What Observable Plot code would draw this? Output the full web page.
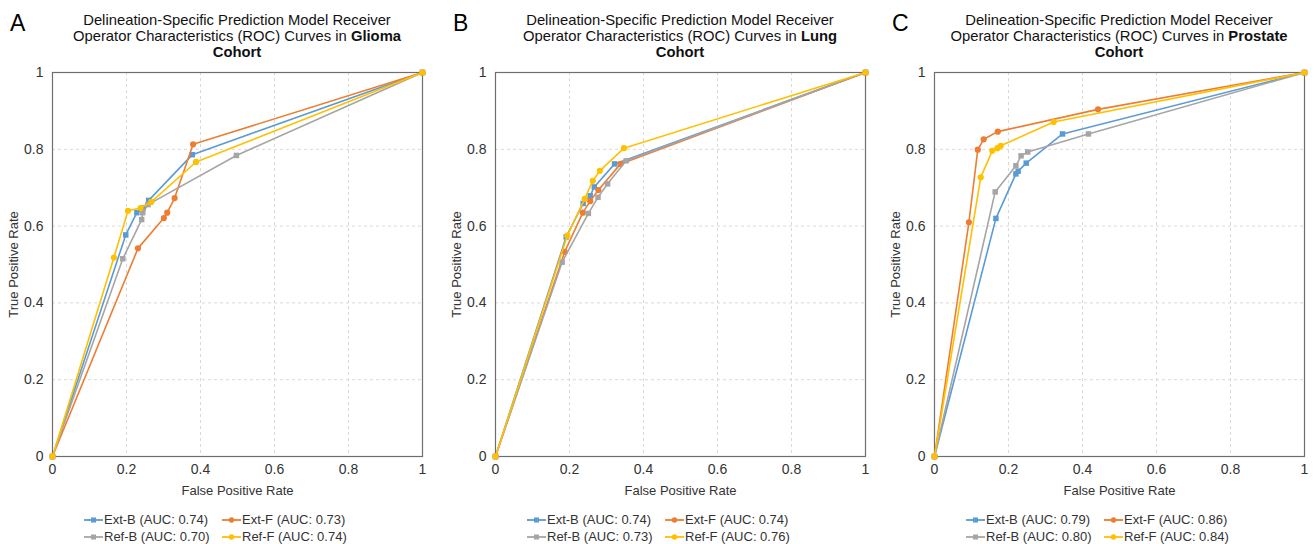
<!DOCTYPE html>
<html>
<head>
<meta charset="utf-8">
<script src="https://cdn.jsdelivr.net/npm/d3@7"></script>
<script src="https://cdn.jsdelivr.net/npm/@observablehq/plot@0.6"></script>
<style>
  html, body { margin: 0; padding: 0; background: #fff; }
  body { width: 1314px; height: 544px; position: relative; overflow: hidden;
         font-family: "Liberation Sans", Arial, sans-serif; }
  .panel { position: absolute; top: 0; width: 438px; height: 544px; }
  .letter { position: absolute; left: 10px; top: 10px; font-size: 23px; color: #000; }
  .title { position: absolute; left: 32px; width: 410px; top: 12px; text-align: center;
           font-size: 14.8px; line-height: 16px; color: #111; }
  .plotwrap { position: absolute; left: 0; top: 60px; }
  .plotwrap svg g[aria-label="x-axis label"] text,
  .plotwrap svg g[aria-label="y-axis label"] text,
  .plotwrap svg g[aria-label="x-axis label"],
  .plotwrap svg g[aria-label="y-axis label"] { font-size: 13px; }
  .legend { position: absolute; left: 84px; top: 511px; display: grid;
            grid-template-columns: 138px 150px; row-gap: 0px; font-size: 13px; color: #333; }
  .item { display: flex; align-items: center; height: 17px; white-space: nowrap; }
  .item svg { margin-right: 1px; }
</style>
</head>
<body>
<script>
// ---- data ----
const tickValues = [0, 0.2, 0.4, 0.6, 0.8, 1];
const seriesNames = ["Ext-B", "Ext-F", "Ref-B", "Ref-F"];
const seriesColors = ["#5B9BD5", "#ED7D31", "#A5A5A5", "#FFC000"];
const seriesSymbols = ["square", "circle", "square", "circle"];

// Glioma (FPR, TPR)
const gliomaExtB = [[0,0],[0.198,0.577],[0.228,0.635],[0.245,0.647],[0.260,0.667],[0.378,0.786],[1,1]];
const gliomaExtF = [[0,0],[0.231,0.542],[0.301,0.621],[0.310,0.635],[0.330,0.673],[0.380,0.813],[1,1]];
const gliomaRefB = [[0,0],[0.190,0.515],[0.241,0.617],[0.244,0.635],[0.258,0.656],[0.497,0.784],[1,1]];
const gliomaRefF = [[0,0],[0.166,0.518],[0.204,0.640],[0.238,0.647],[0.267,0.663],[0.388,0.767],[1,1]];
const gliomaAUC = ["0.74", "0.73", "0.70", "0.74"];

// Lung
const lungExtB = [[0,0],[0.191,0.572],[0.237,0.659],[0.256,0.679],[0.267,0.702],[0.322,0.762],[1,1]];
const lungExtF = [[0,0],[0.187,0.533],[0.236,0.635],[0.256,0.665],[0.278,0.694],[0.338,0.762],[1,1]];
const lungRefB = [[0,0],[0.180,0.506],[0.251,0.633],[0.277,0.675],[0.303,0.710],[0.353,0.770],[1,1]];
const lungRefF = [[0,0],[0.194,0.575],[0.241,0.671],[0.263,0.718],[0.282,0.744],[0.347,0.803],[1,1]];
const lungAUC = ["0.74", "0.74", "0.73", "0.76"];

// Prostate
const prostateExtB = [[0,0],[0.166,0.620],[0.220,0.736],[0.226,0.743],[0.248,0.764],[0.346,0.840],[1,1]];
const prostateExtF = [[0,0],[0.093,0.610],[0.117,0.799],[0.133,0.826],[0.171,0.846],[0.442,0.904],[1,1]];
const prostateRefB = [[0,0],[0.164,0.689],[0.220,0.757],[0.234,0.783],[0.252,0.793],[0.416,0.840],[1,1]];
const prostateRefF = [[0,0],[0.125,0.727],[0.156,0.796],[0.170,0.803],[0.179,0.809],[0.322,0.871],[1,1]];
const prostateAUC = ["0.79", "0.86", "0.80", "0.84"];

const panels = [
  {letter: "A", cohort: "Glioma", left: 0, series: [gliomaExtB, gliomaExtF, gliomaRefB, gliomaRefF], auc: gliomaAUC},
  {letter: "B", cohort: "Lung", left: 443, series: [lungExtB, lungExtF, lungRefB, lungRefF], auc: lungAUC},
  {letter: "C", cohort: "Prostate", left: 882, series: [prostateExtB, prostateExtF, prostateRefB, prostateRefF], auc: prostateAUC}
];

const fmt = d => String(+d.toFixed(1));

function makePlot(series) {
  const marks = [
    Plot.gridX(tickValues.slice(1, -1), {stroke: "#d9d9d9", strokeOpacity: 1, strokeDasharray: "3,3"}),
    Plot.gridY(tickValues.slice(1, -1), {stroke: "#d9d9d9", strokeOpacity: 1, strokeDasharray: "3,3"}),
    Plot.frame({stroke: "#6e6e6e", strokeWidth: 1.2})
  ];
  series.forEach((pts, i) => {
    const rows = pts.map(([fpr, tpr]) => ({fpr, tpr}));
    marks.push(Plot.line(rows, {x: "fpr", y: "tpr", stroke: seriesColors[i], strokeWidth: 1.6}));
    marks.push(Plot.dot(rows, {x: "fpr", y: "tpr", fill: seriesColors[i], stroke: "none",
                               symbol: seriesSymbols[i], r: 3.1}));
  });
  return Plot.plot({
    width: 438, height: 440,
    marginLeft: 52, marginRight: 16, marginTop: 12, marginBottom: 44,
    style: {fontFamily: "'Liberation Sans', Arial, sans-serif", fontSize: "14px", color: "#333", background: "transparent", overflow: "visible"},
    x: {domain: [0, 1], ticks: tickValues, tickFormat: fmt, tickSize: 0, tickPadding: 8,
        label: "False Positive Rate", labelAnchor: "center", labelArrow: "none", labelOffset: 38},
    y: {domain: [0, 1], ticks: tickValues, tickFormat: fmt, tickSize: 0, tickPadding: 9,
        label: "True Positive Rate", labelAnchor: "center", labelArrow: "none", labelOffset: 44},
    marks
  });
}

function legendIcon(i) {
  const ns = "http://www.w3.org/2000/svg";
  const svg = document.createElementNS(ns, "svg");
  svg.setAttribute("width", 19); svg.setAttribute("height", 10);
  const line = document.createElementNS(ns, "line");
  line.setAttribute("x1", 0); line.setAttribute("x2", 19);
  line.setAttribute("y1", 5); line.setAttribute("y2", 5);
  line.setAttribute("stroke", seriesColors[i]); line.setAttribute("stroke-width", 1.8);
  svg.appendChild(line);
  let m;
  if (seriesSymbols[i] === "square") {
    m = document.createElementNS(ns, "rect");
    m.setAttribute("x", 7); m.setAttribute("y", 2.5); m.setAttribute("width", 5); m.setAttribute("height", 5);
  } else {
    m = document.createElementNS(ns, "circle");
    m.setAttribute("cx", 9.5); m.setAttribute("cy", 5); m.setAttribute("r", 2.7);
  }
  m.setAttribute("fill", seriesColors[i]);
  svg.appendChild(m);
  return svg;
}

for (const p of panels) {
  const div = document.createElement("div");
  div.className = "panel";
  div.style.left = p.left + "px";

  const letter = document.createElement("div");
  letter.className = "letter"; letter.textContent = p.letter;
  div.appendChild(letter);

  const title = document.createElement("div");
  title.className = "title";
  title.innerHTML = "Delineation-Specific Prediction Model Receiver<br>Operator Characteristics (ROC) Curves in <b>" +
    p.cohort + "</b><br><b>Cohort</b>";
  div.appendChild(title);

  const wrap = document.createElement("div");
  wrap.className = "plotwrap";
  wrap.appendChild(makePlot(p.series));
  div.appendChild(wrap);

  const legend = document.createElement("div");
  legend.className = "legend";
  seriesNames.forEach((name, i) => {
    const item = document.createElement("div");
    item.className = "item";
    item.appendChild(legendIcon(i));
    const span = document.createElement("span");
    span.textContent = name + " (AUC: " + p.auc[i] + ")";
    item.appendChild(span);
    legend.appendChild(item);
  });
  div.appendChild(legend);

  document.body.appendChild(div);
}
</script>
</body>
</html>
